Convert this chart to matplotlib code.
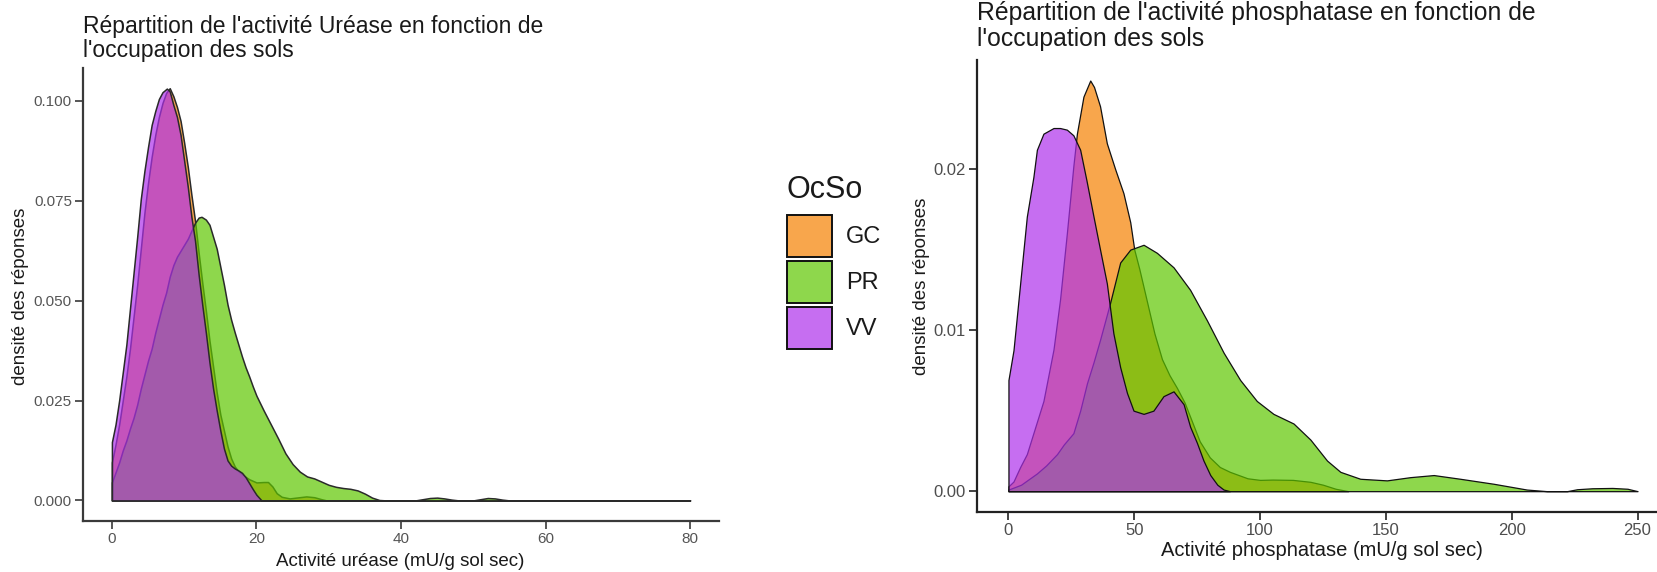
import matplotlib
matplotlib.use("Agg")
import matplotlib.pyplot as plt
from matplotlib.patches import Patch

plt.rcParams['font.family'] = ['Liberation Sans', 'DejaVu Sans']

# ---------------- data ----------------
categories = ['GC', 'PR', 'VV']
legend_title = 'OcSo'

# Urease densities
ure_gc_x = [0, 0.5, 1, 1.5, 2, 2.5, 3, 3.5, 4, 4.5, 5, 5.5, 6, 6.5, 7, 7.5, 8, 8.5, 9, 9.5,
            10, 10.5, 11, 11.5, 12, 12.5, 13, 13.5, 14, 14.5, 15, 15.5, 16, 16.5, 17, 17.5,
            18, 19, 20, 21, 21.6, 22.2, 22.8, 23.5, 24.6, 25.5, 26.9, 28, 29, 29.7, 35, 45, 55.6]
ure_gc_y = [0.0095, 0.014, 0.019, 0.025, 0.031, 0.038, 0.046, 0.054, 0.063, 0.072, 0.0795, 0.086,
            0.0915, 0.096, 0.0995, 0.102, 0.1032, 0.1012, 0.0985, 0.095, 0.0895, 0.0835, 0.0765,
            0.070, 0.062, 0.0545, 0.0475, 0.040, 0.0335, 0.027, 0.0215, 0.0175, 0.0135, 0.0105,
            0.0085, 0.0073, 0.0065, 0.0053, 0.0045, 0.0046, 0.0046, 0.0035, 0.0018, 0.0009,
            0.0005, 0.0007, 0.0010, 0.0008, 0.0003, 0.0, 0.0, 0.0, 0.0]

ure_pr_x = [0, 0.5, 1, 1.5, 2, 2.5, 3, 3.5, 4, 4.5, 5, 5.5, 6, 6.5, 7, 7.5, 8, 8.5, 9, 9.5,
            10, 10.5, 11, 11.5, 12, 12.4, 13, 13.5, 14, 14.5, 15, 15.5, 16, 16.5, 17, 17.5, 18,
            18.5, 19, 19.5, 20, 21, 22, 23, 24, 25, 26, 27, 28, 29, 30, 31, 32, 33, 34, 35, 36,
            37, 38, 42, 43, 44, 45, 46, 47, 48, 50, 51, 52, 53, 54, 55, 80]
ure_pr_y = [0.0045, 0.007, 0.0095, 0.0125, 0.015, 0.018, 0.0207, 0.024, 0.028, 0.0315, 0.035,
            0.038, 0.042, 0.0455, 0.049, 0.052, 0.056, 0.0589, 0.061, 0.0625, 0.064, 0.0655,
            0.0675, 0.0695, 0.0708, 0.0710, 0.0703, 0.069, 0.066, 0.063, 0.0585, 0.054, 0.049,
            0.0452, 0.042, 0.039, 0.036, 0.0333, 0.031, 0.0285, 0.0262, 0.0225, 0.019, 0.0155,
            0.0118, 0.0091, 0.0072, 0.006, 0.0055, 0.0047, 0.0039, 0.0034, 0.0031, 0.0029,
            0.0025, 0.0017, 0.0007, 0.0001, 0.0, 0.0, 0.0003, 0.0006, 0.0007, 0.0005, 0.0002,
            0.0, 0.0, 0.0003, 0.0006, 0.0005, 0.0002, 0.0, 0.0]

ure_vv_x = [0, 0.5, 1, 1.5, 2, 2.5, 3, 3.5, 4, 4.5, 5, 5.5, 6, 6.5, 7, 7.6, 8, 8.5, 9, 9.5,
            10, 10.5, 11, 11.5, 12, 12.5, 13, 13.5, 14, 14.5, 15, 15.5, 16, 16.5, 17, 17.5, 18,
            18.5, 19, 19.5, 20, 20.7, 37]
ure_vv_y = [0.0146, 0.019, 0.025, 0.032, 0.039, 0.048, 0.057, 0.066, 0.0755, 0.0825, 0.0885,
            0.094, 0.0975, 0.1005, 0.1022, 0.1031, 0.1024, 0.099, 0.096, 0.0915, 0.085, 0.0785,
            0.071, 0.065, 0.0565, 0.049, 0.042, 0.0345, 0.028, 0.0225, 0.0175, 0.013, 0.010,
            0.0087, 0.0080, 0.0075, 0.0069, 0.0058, 0.0043, 0.0028, 0.0014, 0.0, 0.0]

# Phosphatase densities
pho_gc_x = [0, 2, 4.65, 7.3, 9.9, 13.9, 17.9, 20.5, 23.2, 25.8, 27.2, 29.8, 32.5, 34, 36.4, 39.1,
            42.4, 45.7, 48.4, 50, 52, 55, 58, 61, 64, 67, 70, 73, 76, 80, 84, 88, 95, 100, 105,
            113, 120, 125, 130, 135]
pho_gc_y = [0.0003, 0.0006, 0.0015, 0.0023, 0.0036, 0.0056, 0.0088, 0.0119, 0.0160, 0.0202,
            0.0222, 0.0245, 0.0255, 0.0251, 0.0239, 0.0216, 0.0200, 0.0185, 0.0167, 0.0150,
            0.0138, 0.0118, 0.0098, 0.0082, 0.0072, 0.0064, 0.0055, 0.0043, 0.0031, 0.0021,
            0.0015, 0.0012, 0.0008, 0.0007, 0.00072, 0.0007, 0.00058, 0.0004, 0.00015, 0.0]

pho_pr_x = [0, 5, 11.3, 15, 19.3, 22, 25.8, 28.5, 31.2, 33.8, 36.4, 40.4, 44.4, 48.4, 53.7, 59,
            65.6, 72.2, 78.9, 85.5, 92.1, 98.7, 105.3, 113.3, 120, 126.6, 131.9, 139.8, 150.4,
            159.7, 169, 179.5, 192.8, 206, 214, 222, 226, 232, 240, 246, 250]
pho_pr_y = [0.0001, 0.0004, 0.0011, 0.0016, 0.0023, 0.0029, 0.0036, 0.0050, 0.0067, 0.0080,
            0.0094, 0.0117, 0.0142, 0.0150, 0.0153, 0.0148, 0.0139, 0.0125, 0.0106, 0.0086,
            0.0069, 0.0056, 0.0048, 0.0042, 0.0032, 0.0019, 0.0012, 0.00077, 0.00067, 0.00087,
            0.0010, 0.00077, 0.00046, 0.0001, 0.0, 0.0, 0.00012, 0.00018, 0.0002, 0.00015, 0.0]

pho_vv_x = [0, 2, 4.65, 7.3, 9.9, 11.3, 13.9, 17.9, 20.5, 23.2, 25.8, 28.5, 31, 33.8, 36.4, 39.1,
            41.7, 44.4, 47.1, 49.7, 53.7, 57.6, 61.6, 65.6, 69.6, 72.2, 74.9, 77.5, 80.2, 83,
            85.5, 88]
pho_vv_y = [0.0069, 0.00875, 0.0129, 0.01705, 0.0195, 0.0212, 0.0222, 0.02255, 0.02255, 0.02245,
            0.0221, 0.0212, 0.0193, 0.01705, 0.0150, 0.0129, 0.0098, 0.0077, 0.0061, 0.0050,
            0.0048, 0.0050, 0.0059, 0.0062, 0.0054, 0.0040, 0.0030, 0.0019, 0.0010, 0.0004,
            0.0001, 0.0]

ure_xticks = [0, 20, 40, 60, 80]
ure_yticks = [0.0, 0.025, 0.05, 0.075, 0.1]
ure_yticklabels = ['0.000', '0.025', '0.050', '0.075', '0.100']
pho_xticks = [0, 50, 100, 150, 200, 250]
pho_yticks = [0.0, 0.01, 0.02]
pho_yticklabels = ['0.00', '0.01', '0.02']

# ---------------- style ----------------
W, H = 1657, 572
colors = {'GC': (246/255, 128/255, 0/255),
          'PR': (94/255, 199/255, 0/255),
          'VV': (174/255, 48/255, 236/255)}
ALPHA = 0.7

fig = plt.figure(figsize=(W/100, H/100), dpi=100)

def px_axes(x0, x1, ytop, ybot):
    return fig.add_axes([x0/W, 1 - ybot/H, (x1 - x0)/W, (ybot - ytop)/H])

axL = px_axes(83, 719, 68, 521)
axR = px_axes(977, 1669, 60, 511.7)

def style_axis(ax, spine_col, tick_col, tsize):
    for s in ['top', 'right']:
        ax.spines[s].set_visible(False)
    for s in ['left', 'bottom']:
        ax.spines[s].set_color(spine_col)
        ax.spines[s].set_linewidth(1.6)
    ax.tick_params(axis='both', colors=spine_col, length=5.5, width=1.2,
                   labelcolor=tick_col, labelsize=tsize, pad=2.5)
    ax.set_facecolor('white')

series_ure = {'GC': (ure_gc_x, ure_gc_y), 'PR': (ure_pr_x, ure_pr_y), 'VV': (ure_vv_x, ure_vv_y)}
series_pho = {'GC': (pho_gc_x, pho_gc_y), 'PR': (pho_pr_x, pho_pr_y), 'VV': (pho_vv_x, pho_vv_y)}

for ax, series, edge, lw in [(axL, series_ure, '#2a2a2a', 1.1), (axR, series_pho, '#111111', 0.9)]:
    for cat in categories:
        xs, ys = series[cat]
        ax.fill_between(xs, 0, ys, facecolor=colors[cat] + (ALPHA,),
                        edgecolor=edge, linewidth=lw)

# Left axis
axL.set_xlim(-4, 84)
axL.set_ylim(-0.1031 * 0.05, 0.1031 * 1.05)
axL.set_xticks(ure_xticks)
axL.set_yticks(ure_yticks)
axL.set_yticklabels(ure_yticklabels)
style_axis(axL, '#3a3a3a', '#555555', 11)

# Right axis
axR.set_xlim(-12.5, 262.5)
axR.set_ylim(-0.0255 * 0.05, 0.0255 * 1.05)
axR.set_xticks(pho_xticks)
axR.set_yticks(pho_yticks)
axR.set_yticklabels(pho_yticklabels)
style_axis(axR, '#222222', '#4d4d4d', 12)

# Axis labels
axL.set_xlabel('Activité uréase (mU/g sol sec)', fontsize=13.5, color='#1a1a1a')
axL.xaxis.set_label_coords((400 - 83) / 636, (521 - 561) / 453)
axL.xaxis.label.set_va('center')
axL.set_ylabel('densité des réponses', fontsize=13.5, color='#1a1a1a')
axL.yaxis.set_label_coords((21 - 83) / 636, (521 - 296) / 453)
axL.yaxis.label.set_va('center')

axR.set_xlabel('Activité phosphatase (mU/g sol sec)', fontsize=14.5, color='#1a1a1a')
axR.xaxis.set_label_coords((1321.7 - 977) / 692, (511.7 - 550) / 451.7)
axR.xaxis.label.set_va('center')
axR.set_ylabel('densité des réponses', fontsize=13.5, color='#1a1a1a')
axR.yaxis.set_label_coords((921 - 977) / 692, (511.7 - 286) / 451.7)
axR.yaxis.label.set_va('center')

# Titles (two lines each, one text object; baseline = last line)
axL.text(0, (521 - 57) / 453, "Répartition de l'activité Uréase en fonction de\nl'occupation des sols",
         transform=axL.transAxes, fontsize=16.5, ha='left', va='baseline', color='#1a1a1a',
         linespacing=1.08)
axR.text(0, (511.7 - 46) / 451.7, "Répartition de l'activité phosphatase en fonction de\nl'occupation des sols",
         transform=axR.transAxes, fontsize=17.8, ha='left', va='baseline', color='#1a1a1a',
         linespacing=1.1)

# Legend
handles = [Patch(facecolor=colors[c] + (ALPHA,), edgecolor='#111111', linewidth=1.4, label=c)
           for c in categories]
leg = fig.legend(handles=handles, title=legend_title, loc='upper left',
                 bbox_to_anchor=(782 / W, 1 - 170 / H), frameon=False,
                 fontsize=17, title_fontsize=22, handlelength=1.9, handleheight=2.36,
                 labelspacing=0.17, handletextpad=0.6, borderaxespad=0, borderpad=0.2)
leg._legend_box.align = 'left'
leg._legend_box.sep = 7.5
for t in leg.get_texts():
    t.set_color('#1a1a1a')
leg.get_title().set_color('#1a1a1a')

fig.savefig('out.png', dpi=100, facecolor='white')
